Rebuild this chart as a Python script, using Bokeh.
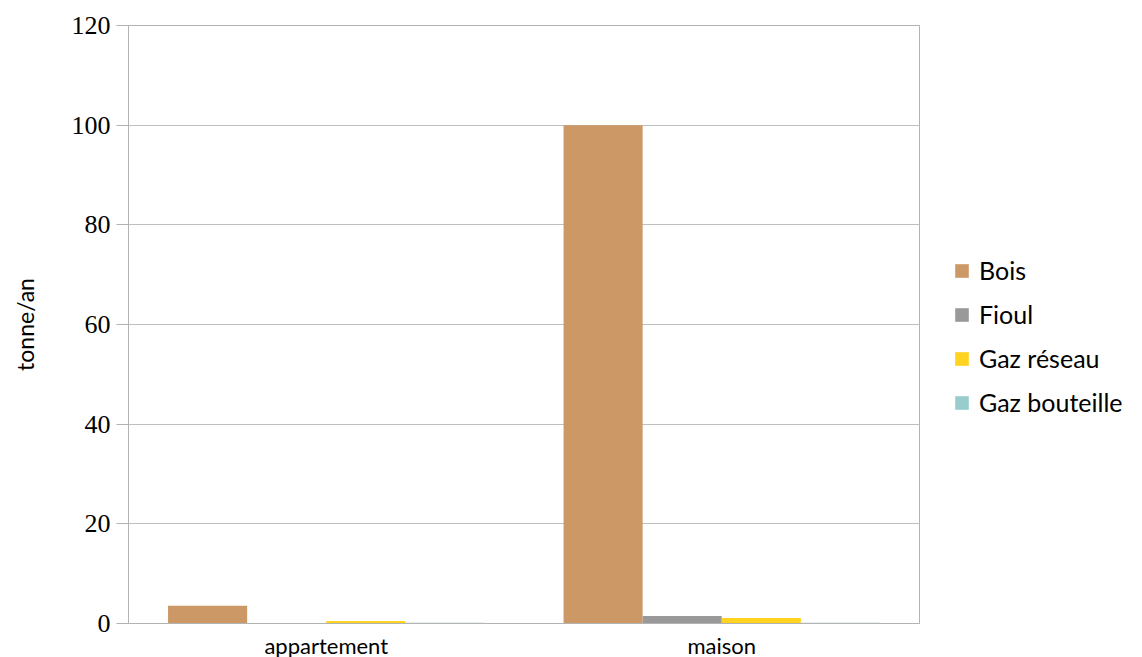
from bokeh.plotting import figure
from bokeh.models import ColumnDataSource, Legend, LegendItem, FactorRange
from bokeh.transform import dodge
from bokeh.embed import file_html
from bokeh.resources import INLINE

# Consommation annuelle par type de logement et par énergie
logements = ["appartement", "maison"]
energies = ["Bois", "Fioul", "Gaz réseau", "Gaz bouteille"]
bois = [3.55, 100.0]
fioul = [0.05, 1.5]
gaz_reseau = [0.5, 1.1]
gaz_bouteille = [0.15, 0.15]
y_ticks = [0, 20, 40, 60, 80, 100, 120]

colors = ["#cc9966", "#999999", "#ffd320", "#99cccc"]
keys = ["bois", "fioul", "gaz_reseau", "gaz_bouteille"]

source = ColumnDataSource(dict(logement=logements, bois=bois, fioul=fioul,
                               gaz_reseau=gaz_reseau, gaz_bouteille=gaz_bouteille))

p = figure(frame_width=791, frame_height=598,
           x_range=FactorRange(*logements, range_padding=0),
           y_range=(0, 120), output_backend="svg", toolbar_location=None,
           min_border_left=128, min_border_right=0, min_border_top=25,
           min_border_bottom=0)

bar_w = 0.2
offsets = [-0.3, -0.1, 0.1, 0.3]
items = []
for key, name, color, off in zip(keys, energies, colors, offsets):
    r = p.vbar(x=dodge("logement", off, range=p.x_range), top=key, width=bar_w,
               source=source, fill_color=color, line_color=None)
    items.append(LegendItem(label=name, renderers=[r]))

legend = Legend(items=items, location=(34, 206), border_line_color=None,
                background_fill_alpha=0, glyph_width=17, glyph_height=17,
                label_text_font="Lato", label_text_font_size="25px",
                label_text_color="#000000", label_height=26, spacing=14,
                label_standoff=9, padding=0, margin=34)
p.add_layout(legend, "right")

p.outline_line_color = "#b3b3b3"
p.xgrid.grid_line_color = None
p.ygrid.grid_line_color = "#bfbfbf"
p.ygrid.grid_line_width = 1

p.yaxis.ticker = y_ticks
p.yaxis.axis_line_color = "#b3b3b3"
p.yaxis.major_tick_line_color = "#b3b3b3"
p.yaxis.major_tick_out = 12
p.yaxis.major_tick_in = 0
p.yaxis.minor_tick_line_color = None
p.yaxis.major_label_text_font = "Liberation Serif"
p.yaxis.major_label_text_font_size = "26px"
p.yaxis.major_label_text_color = "#000000"
p.yaxis.major_label_standoff = 6
p.yaxis.axis_label = "tonne/an"
p.yaxis.axis_label_text_font = "Lato"
p.yaxis.axis_label_text_font_style = "normal"
p.yaxis.axis_label_text_font_size = "23px"
p.yaxis.axis_label_text_color = "#000000"
p.yaxis.axis_label_standoff = 30

p.xaxis.axis_line_color = "#b3b3b3"
p.xaxis.major_tick_line_color = None
p.xaxis.minor_tick_line_color = None
p.xaxis.major_label_text_font = "Lato"
p.xaxis.major_label_text_font_size = "22px"
p.xaxis.major_label_text_color = "#000000"
p.xaxis.major_label_standoff = 2

open("out.html", "w").write(file_html(p, INLINE))
